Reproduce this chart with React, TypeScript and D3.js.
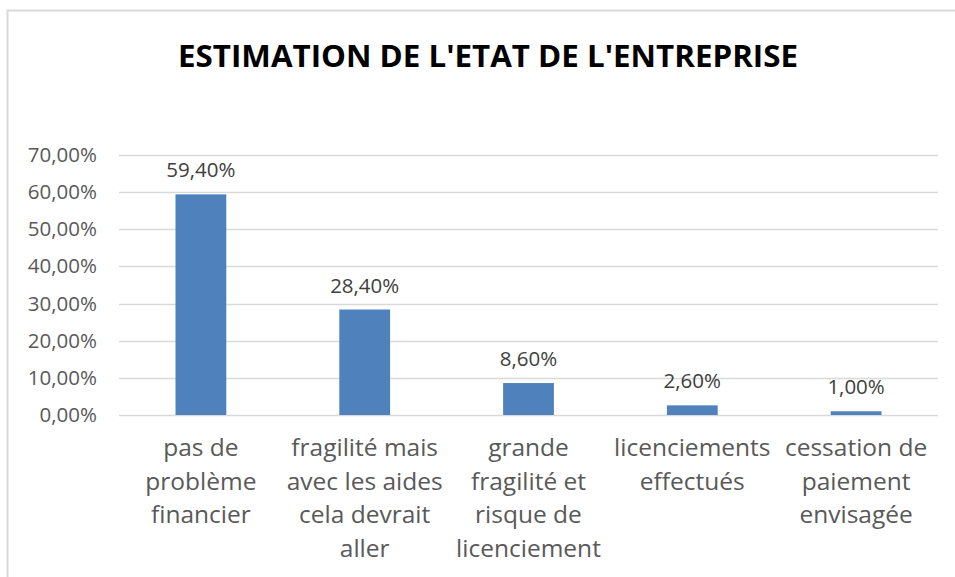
import React, { useRef, useEffect } from 'react';
import * as d3 from 'd3';

const title = "ESTIMATION DE L'ETAT DE L'ENTREPRISE";
// category labels, one entry per wrapped line as shown
const categories: string[][] = [
  ['pas de', 'problème', 'financier'],
  ['fragilité mais', 'avec les aides', 'cela devrait', 'aller'],
  ['grande', 'fragilité et', 'risque de', 'licenciement'],
  ['licenciements', 'effectués'],
  ['cessation de', 'paiement', 'envisagée'],
];
const values = [0.594, 0.284, 0.086, 0.026, 0.01];
const yTicks = [0, 0.1, 0.2, 0.3, 0.4, 0.5, 0.6, 0.7];

const W = 955;
const H = 577;
const font = "'Open Sans', sans-serif";

const frLocale = d3.formatLocale({
  decimal: ',',
  thousands: ' ',
  grouping: [3],
  currency: ['', ' €'],
});
const pct = frLocale.format('.2%');

const BarChart = () => {
  const ref = useRef<SVGSVGElement>(null);

  useEffect(() => {
    const svg = d3.select(ref.current);
    svg.selectAll('*').remove();

    const margin = { top: 155, right: 17, bottom: 162, left: 119 };

    // chart area border
    svg.append('rect')
      .attr('x', 7.5)
      .attr('y', 10.5)
      .attr('width', W + 10)
      .attr('height', H + 10)
      .attr('fill', 'white')
      .attr('stroke', '#d9d9d9')
      .attr('stroke-width', 2);

    svg.append('text')
      .attr('x', 488)
      .attr('y', 67)
      .attr('text-anchor', 'middle')
      .attr('font-family', font)
      .attr('font-weight', 700)
      .attr('font-size', 31)
      .attr('textLength', 620)
      .attr('lengthAdjust', 'spacingAndGlyphs')
      .attr('fill', '#000')
      .text(title);

    const x = d3.scaleBand<number>()
      .domain(d3.range(values.length))
      .range([margin.left, W - margin.right])
      .paddingInner(0.69)
      .paddingOuter(0.345);

    const y = d3.scaleLinear()
      .domain([0, 0.7])
      .range([H - margin.bottom, margin.top]);

    // gridlines
    svg.append('g')
      .selectAll('line')
      .data(yTicks)
      .join('line')
      .attr('x1', margin.left)
      .attr('x2', W - margin.right)
      .attr('y1', d => Math.round(y(d)) + 0.5)
      .attr('y2', d => Math.round(y(d)) + 0.5)
      .attr('stroke', '#d9d9d9')
      .attr('stroke-width', 1.5);

    // y axis labels
    const yAxis = d3.axisLeft(y)
      .tickValues(yTicks)
      .tickFormat(d => pct(d as number))
      .tickSize(0)
      .tickPadding(0);

    svg.append('g')
      .attr('transform', `translate(97,0)`)
      .call(yAxis)
      .call(g => g.select('.domain').remove())
      .call(g => g.selectAll('text')
        .attr('font-family', font)
        .attr('font-size', 20.5)
        .attr('fill', '#595959'));

    // bars
    svg.append('g')
      .selectAll('rect')
      .data(values)
      .join('rect')
      .attr('x', (_, i) => x(i)!)
      .attr('y', d => y(d))
      .attr('width', x.bandwidth())
      .attr('height', d => y(0) - y(d))
      .attr('fill', '#4f81bd');

    // data labels
    svg.append('g')
      .selectAll('text')
      .data(values)
      .join('text')
      .attr('x', (_, i) => x(i)! + x.bandwidth() / 2)
      .attr('y', d => y(d) - 17)
      .attr('text-anchor', 'middle')
      .attr('font-family', font)
      .attr('font-size', 20.5)
      .attr('fill', '#404040')
      .text(d => pct(d));

    // category labels
    const cat = svg.append('g')
      .selectAll('text')
      .data(categories)
      .join('text')
      .attr('text-anchor', 'middle')
      .attr('font-family', font)
      .attr('font-size', 24.5)
      .attr('fill', '#595959');

    cat.selectAll('tspan')
      .data((d, i) => d.map(line => ({ line, i })))
      .join('tspan')
      .attr('x', d => x(d.i)! + x.bandwidth() / 2)
      .attr('y', (_, j) => 456 + j * 33.7)
      .text(d => d.line);
  }, []);

  return (
    <svg
      ref={ref}
      width={W}
      height={H}
      style={{ position: 'absolute', left: 0, top: 0, background: 'white' }}
    />
  );
};

export default function App() {
  return <BarChart />;
}
